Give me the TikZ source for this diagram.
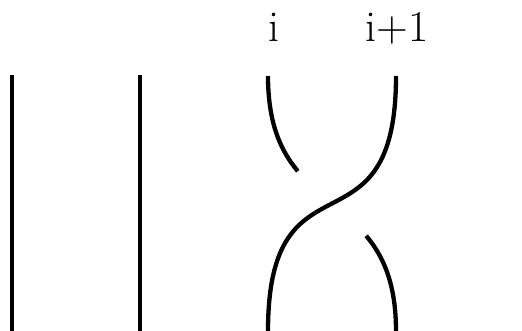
\documentclass[tikz,border=0pt]{standalone}
\begin{document}
\begin{tikzpicture}[x=1pt,y=-1pt,
  strand/.style={line width=4.3pt},
  lbl/.style={anchor=base,inner sep=0pt,font=\fontsize{44}{52}\selectfont}]
\useasboundingbox (0,0) rectangle (522,331);
% endpoints
\coordinate (a1) at (12,75);  \coordinate (a2) at (12,331);
\coordinate (b1) at (140,75); \coordinate (b2) at (140,331);
\coordinate (l1) at (268,76); \coordinate (l2) at (268,331);
\coordinate (r1) at (396,76); \coordinate (r2) at (396,331);
\coordinate (g1) at (297.8,171.2); \coordinate (g2) at (366.2,235.8);
% straight strands
\draw[strand] (a1) -- (a2);
\draw[strand] (b1) -- (b2);
% over strand
\draw[strand] (r1) .. controls (396,264) and (268,143) .. (l2);
% under strand, broken
\draw[strand] (l1) .. controls (268,122.5) and (280.3,150.3) .. (g1);
\draw[strand] (r2) .. controls (396,284.5) and (383.7,256.7) .. (g2);
% labels
\node[lbl] (ti) at (273.5,41.5) {i};
\node[lbl] (tj) at (397,41.5) {i+1};
\end{tikzpicture}
\end{document}
